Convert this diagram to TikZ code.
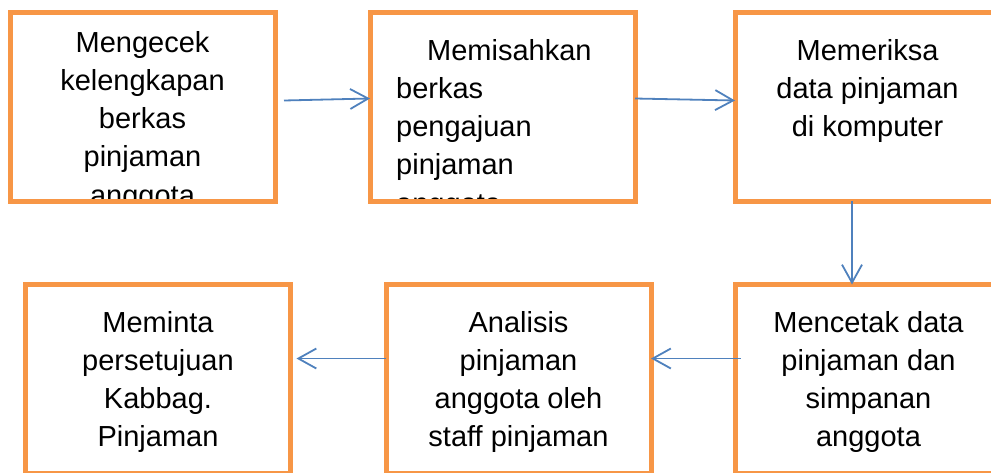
\documentclass[tikz,border=0pt]{standalone}
\usepackage{fontspec}
\setmainfont{Liberation Sans}
\usetikzlibrary{positioning,arrows.meta}
\definecolor{kotakoranye}{HTML}{F79646}
\definecolor{panahbiru}{HTML}{4F81BD}

\begin{document}
\begin{tikzpicture}[x=1pt,y=-1pt,
        kotak/.style={draw=kotakoranye,line width=5pt,minimum width=265pt,minimum height=189pt,inner sep=0pt,outer sep=0pt},
        isi/.style={font=\fontsize{29}{38.3}\selectfont,inner sep=0pt,align=center,anchor=base},
        panah/.style={draw=panahbiru,line width=1.8pt,-{Straight Barb[length=18pt,width=20pt]}}]
        \clip (0,0) rectangle (991,472);
        % baris atas
        \node[kotak] (cek) at (142.5,106.5) {};
        \node[kotak] (pisah) at (502.5,106.5) {};
        \node[kotak] (periksa) at (867.5,106.5) {};
        % baris bawah
        \node[kotak] (minta) at (158,379) {};
        \node[kotak] (analisis) at (518.5,379) {};
        \node[kotak] (cetak) at (868,379) {};
        % teks (baseline baris terakhir)
        \begin{scope}
            \clip ([xshift=2.5pt,yshift=-2.5pt]cek.north west) rectangle ([xshift=-2.5pt,yshift=2.5pt]cek.south east);
            \node[isi] (tcek) at (142.5,205.2) {Mengecek\\kelengkapan\\berkas\\pinjaman\\anggota};
        \end{scope}
        \begin{scope}
            \clip ([xshift=2.5pt,yshift=-2.5pt]pisah.north west) rectangle ([xshift=-2.5pt,yshift=2.5pt]pisah.south east);
            \node[isi,align=left,anchor=base west] (tpisah) at (396,213.2) {\hspace*{31pt}Memisahkan\\berkas\\pengajuan\\pinjaman\\anggota};
        \end{scope}
        \node[isi] (tperiksa) at (867.5,136.6) {Memeriksa\\data pinjaman\\di komputer};
        \node[isi] (tcetak) at (868.5,446.9) {Mencetak data\\pinjaman dan\\simpanan\\anggota};
        \node[isi] (tanalisis) at (518.5,446.9) {Analisis\\pinjaman\\anggota oleh\\staff pinjaman};
        \node[isi] (tminta) at (158,446.9) {Meminta\\persetujuan\\Kabbag.\\Pinjaman};
        % panah
        \draw[panah] ([xshift=9pt,yshift=6pt]cek.east) -- ([yshift=8pt]pisah.west);
        \draw[panah] ([yshift=8pt]pisah.east) -- ([yshift=6pt]periksa.west);
        \draw[panah] ([xshift=-15.5pt]periksa.south) -- ([xshift=-16pt]cetak.north);
        \draw[panah] ([xshift=5pt,yshift=20.5pt]cetak.west) -- ([yshift=20.5pt]analisis.east);
        \draw[panah] ([yshift=20.5pt]analisis.west) -- ([xshift=6pt,yshift=20.5pt]minta.east);
\end{tikzpicture}
\end{document}
